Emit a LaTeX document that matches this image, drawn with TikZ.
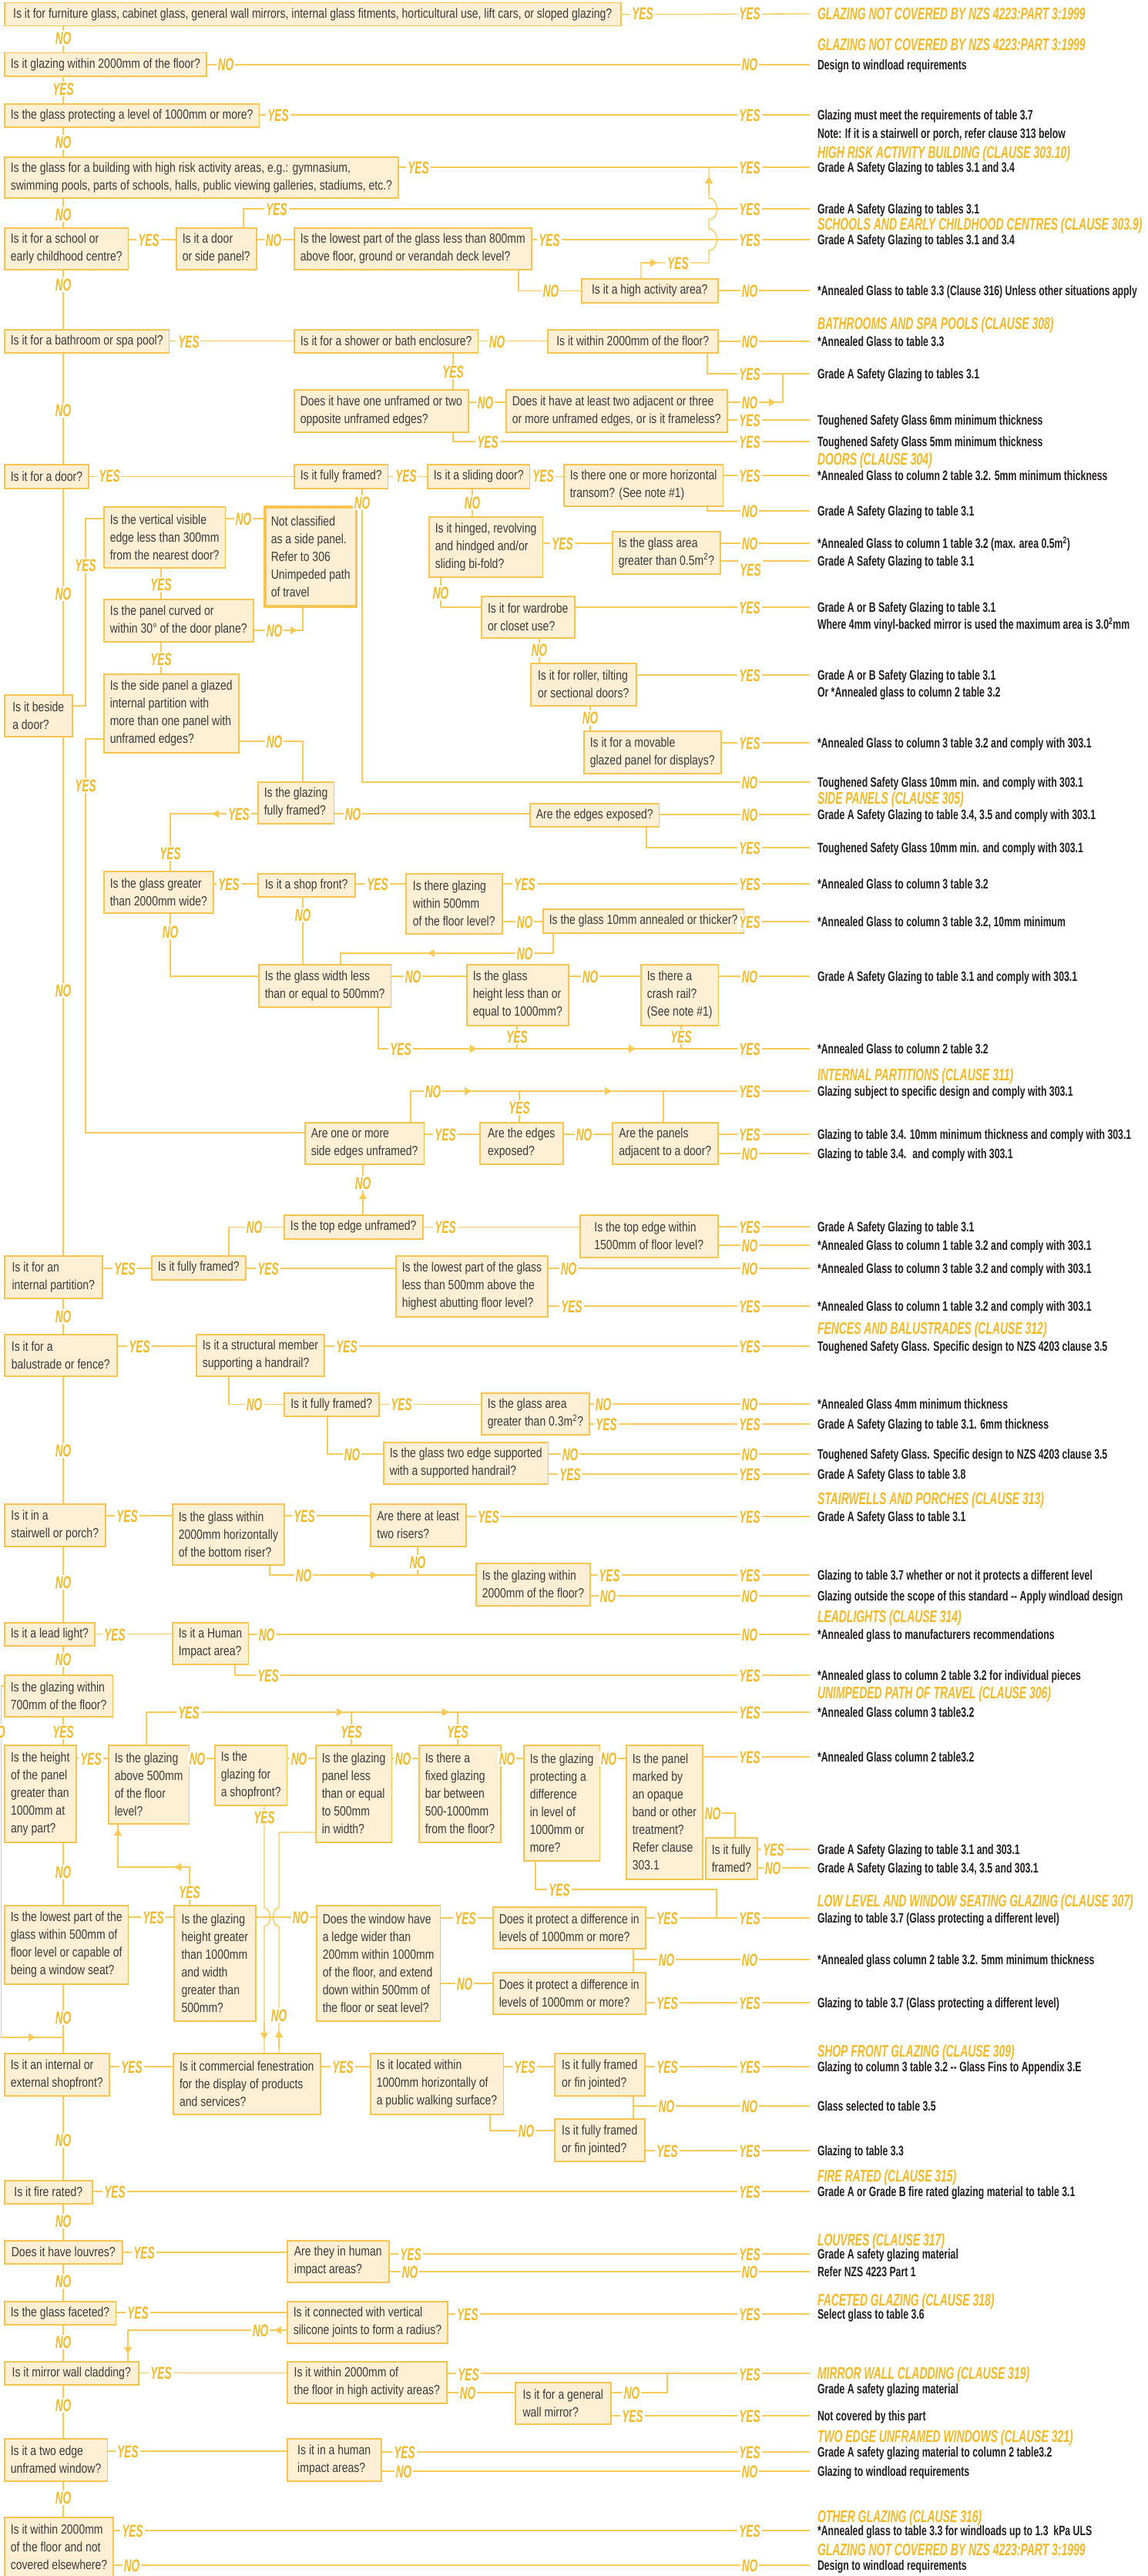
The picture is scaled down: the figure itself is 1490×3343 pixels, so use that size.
\documentclass[tikz,border=0pt]{standalone}
\usepackage{fontspec}
\usetikzlibrary{arrows.meta}
\newfontfamily\boxfont[FakeStretch=0.81]{Liberation Sans}
\newfontfamily\ynfont[FakeStretch=0.61]{Liberation Sans}
\newfontfamily\clfont[FakeStretch=0.64]{Liberation Sans}
\newfontfamily\outfont[FakeStretch=0.69]{Liberation Sans}
\definecolor{boxfill}{HTML}{FCEFD3}
\definecolor{boxline}{HTML}{F6C551}
\definecolor{connline}{HTML}{F8CA57}
\definecolor{ynorange}{HTML}{F5B925}
\definecolor{boxtext}{HTML}{3C3C3C}
\definecolor{outtext}{HTML}{231F20}

\begin{document}
\begin{tikzpicture}[x=1pt,y=-1pt]
\tikzstyle{qbox}=[draw=boxline, fill=boxfill, line width=1.5pt, anchor=north west, align=left, inner xsep=8pt, inner ysep=0pt, text=boxtext, font=\boxfont\fontsize{17.3}{23}\selectfont]
\tikzstyle{conn}=[draw=connline, line width=1.3pt]
\tikzstyle{midtip}=[-{Triangle[length=9pt,width=10pt]}]
\tikzstyle{yesno}=[fill=white, text=ynorange, inner xsep=2pt, inner ysep=1.5pt, text height=16pt, text depth=0pt, font=\ynfont\bfseries\itshape\fontsize{22.3}{24}\selectfont]
\tikzstyle{outcome}=[anchor=west, inner xsep=0pt, outer xsep=10pt, inner ysep=1pt, text height=12.7pt, text depth=0pt, text=outtext, font=\outfont\bfseries\fontsize{17.8}{20}\selectfont]
\tikzstyle{clause}=[outcome, text=ynorange, text height=15.6pt, font=\clfont\bfseries\itshape\fontsize{21.8}{24}\selectfont]
\fill[white] (0,0) rectangle (1490,3343);
\useasboundingbox (0,0) rectangle (1490,3343);
\coordinate (tk) at (82,0);

\node[qbox,minimum width=800pt,minimum height=30pt] (q1) at (5,3) {Is it for furniture glass, cabinet glass, general wall mirrors, internal glass fitments, horticultural use, lift cars, or sloped glazing?};
\node[qbox,minimum width=262pt,minimum height=30pt] (q2) at (5,68) {Is it glazing within 2000mm of the floor?};
\node[qbox,minimum width=328pt,minimum height=30pt] (q3) at (5,134) {Is the glass protecting a level of 1000mm or more?};
\node[qbox,minimum width=509pt,minimum height=53pt] (q4) at (5,203) {Is the glass for a building with high risk activity areas, e.g.: gymnasium,\\swimming pools, parts of schools, halls, public viewing galleries, stadiums, etc.?};
\node[qbox,minimum width=160pt,minimum height=54pt] (q5) at (5,295) {Is it for a school or\\early childhood centre?};
\node[qbox,minimum width=102pt,minimum height=54pt] (q5a) at (228,295) {Is it a door\\or side panel?};
\node[qbox,minimum width=304pt,minimum height=54pt] (q5b) at (381,295) {Is the lowest part of the glass less than 800mm\\above floor, ground or verandah deck level?};
\node[qbox,minimum width=177pt,minimum height=31pt] (q5c) at (754,361) {Is it a high activity area?};
\node[qbox,minimum width=212pt,minimum height=30pt] (q6) at (5,427) {Is it for a bathroom or spa pool?};
\node[qbox,minimum width=237pt,minimum height=30pt] (q6a) at (381,427) {Is it for a shower or bath enclosure?};
\node[qbox,minimum width=221pt,minimum height=30pt] (q6b) at (710,427) {Is it within 2000mm of the floor?};
\node[qbox,minimum width=223pt,minimum height=55pt] (q6c) at (381,505) {Does it have one unframed or two\\opposite unframed edges?};
\node[qbox,minimum width=275pt,minimum height=55pt] (q6d) at (656,505) {Does it have at least two adjacent or three\\or more unframed edges, or is it frameless?};
\node[qbox,minimum width=109pt,minimum height=31pt] (q7) at (5,602) {Is it for a door?};
\node[qbox,minimum width=120pt,minimum height=31pt] (q7a) at (381,602) {Is it fully framed?};
\node[qbox,minimum width=127pt,minimum height=31pt] (q7b) at (554,602) {Is it a sliding door?};
\node[qbox,minimum width=200pt,minimum height=54pt] (q7c) at (731,602) {Is there one or more horizontal\\transom? (See note \#1)};
\node[qbox,minimum width=146pt,minimum height=78pt] (q7d) at (556,670) {Is it hinged, revolving\\and hindged and/or\\sliding bi-fold?};
\node[qbox,minimum width=137pt,minimum height=55pt] (q7e) at (794,689) {Is the glass area\\greater than 0.5m\textsuperscript{2}?};
\node[qbox,minimum width=121pt,minimum height=54pt] (q7f) at (624,773) {Is it for wardrobe\\or closet use?};
\node[qbox,minimum width=137pt,minimum height=55pt] (q7g) at (688,860) {Is it for roller, tilting\\or sectional doors?};
\node[qbox,minimum width=174pt,minimum height=55pt] (q7h) at (757,948) {Is it for a movable\\glazed panel for displays?};
\node[qbox,minimum width=88pt,minimum height=54pt] (q8) at (5,901) {Is it beside\\a door?};
\node[qbox,minimum width=156pt,minimum height=79pt] (q8a) at (134,657) {Is the vertical visible\\edge less than 300mm\\from the nearest door?};
\node[qbox,line width=3.5pt,minimum width=116pt,minimum height=129pt] (q8x) at (342,656) {Not classified\\as a side panel.\\Refer to 306\\Unimpeded path\\of travel};
\node[qbox,minimum width=194pt,minimum height=55pt] (q8b) at (134,777) {Is the panel curved or\\within 30° of the door plane?};
\node[qbox,minimum width=175pt,minimum height=102pt] (q8c) at (134,874) {Is the side panel a glazed\\internal partition with\\more than one panel with\\unframed edges?};
\node[qbox,minimum width=97pt,minimum height=54pt] (q8d) at (334,1014) {Is the glazing\\fully framed?};
\node[qbox,minimum width=162pt,minimum height=30pt] (q8e) at (687,1042) {Are the edges exposed?};
\node[qbox,minimum width=136pt,minimum height=54pt] (q9) at (134,1130) {Is the glass greater\\than 2000mm wide?};
\node[qbox,minimum width=126pt,minimum height=30pt] (q9a) at (334,1133) {Is it a shop front?};
\node[qbox,minimum width=125pt,minimum height=78pt] (q9b) at (526,1133) {Is there glazing\\within 500mm\\of the floor level?};
\node[qbox,minimum width=247pt,minimum height=31pt] (q9c) at (704,1179) {Is the glass 10mm annealed or thicker?};
\node[qbox,minimum width=171pt,minimum height=55pt] (q9d) at (335,1251) {Is the glass width less\\than or equal to 500mm?};
\node[qbox,minimum width=132pt,minimum height=79pt] (q9e) at (605,1251) {Is the glass\\height less than or\\equal to 1000mm?};
\node[qbox,minimum width=100pt,minimum height=79pt] (q9f) at (831,1251) {Is there a\\crash rail?\\(See note \#1)};
\node[qbox,minimum width=153pt,minimum height=54pt] (q10) at (395,1456) {Are one or more\\side edges unframed?};
\node[qbox,minimum width=108pt,minimum height=54pt] (q10a) at (622,1456) {Are the edges\\exposed?};
\node[qbox,minimum width=137pt,minimum height=54pt] (q10b) at (794,1456) {Are the panels\\adjacent to a door?};
\node[qbox,minimum width=180pt,minimum height=31pt] (q11) at (368,1576) {Is the top edge unframed?};
\node[qbox,minimum width=179pt,minimum height=55pt] (q11b) at (752,1576) {Is the top edge within\\1500mm of floor level?};
\node[qbox,minimum width=127pt,minimum height=55pt] (q12) at (5,1629) {Is it for an\\internal partition?};
\node[qbox,minimum width=122pt,minimum height=31pt] (q12a) at (196,1629) {Is it fully framed?};
\node[qbox,minimum width=196pt,minimum height=79pt] (q12b) at (513,1629) {Is the lowest part of the glass\\less than 500mm above the\\highest abutting floor level?};
\node[qbox,minimum width=146pt,minimum height=54pt] (q13) at (5,1731) {Is it for a\\balustrade or fence?};
\node[qbox,minimum width=165pt,minimum height=54pt] (q13a) at (254,1731) {Is it a structural member\\supporting a handrail?};
\node[qbox,minimum width=123pt,minimum height=30pt] (q13b) at (368,1807) {Is it fully framed?};
\node[qbox,minimum width=134pt,minimum height=54pt] (q13c) at (624,1807) {Is the glass area\\greater than 0.3m\textsuperscript{2}?};
\node[qbox,minimum width=211pt,minimum height=54pt] (q13d) at (497,1871) {Is the glass two edge supported\\with a supported handrail?};
\node[qbox,minimum width=131pt,minimum height=55pt] (q14) at (5,1951) {Is it in a\\stairwell or porch?};
\node[qbox,minimum width=143pt,minimum height=79pt] (q14a) at (223,1951) {Is the glass within\\2000mm horizontally\\of the bottom riser?};
\node[qbox,minimum width=124pt,minimum height=55pt] (q14b) at (480,1951) {Are there at least\\two risers?};
\node[qbox,minimum width=144pt,minimum height=55pt] (q14c) at (617,2028) {Is the glazing within\\2000mm of the floor?};
\node[qbox,minimum width=117pt,minimum height=30pt] (q15) at (5,2105) {Is it a lead light?};
\node[qbox,minimum width=95pt,minimum height=54pt] (q15a) at (223,2105) {Is it a Human\\Impact area?};
\node[qbox,minimum width=138pt,minimum height=54pt] (q16) at (5,2173) {Is the glazing within\\700mm of the floor?};
\node[qbox,minimum width=93pt,minimum height=126pt] (q17) at (5,2264) {Is the height\\of the panel\\greater than\\1000mm at\\any part?};
\node[qbox,minimum width=97pt,minimum height=102pt] (q17a) at (140,2264) {Is the glazing\\above 500mm\\of the floor\\level?};
\node[qbox,minimum width=89pt,minimum height=78pt] (q17b) at (278,2264) {Is the\\glazing for\\a shopfront?};
\node[qbox,minimum width=93pt,minimum height=126pt] (q17c) at (409,2264) {Is the glazing\\panel less\\than or equal\\to 500mm\\in width?};
\node[qbox,minimum width=96pt,minimum height=126pt] (q17d) at (543,2264) {Is there a\\fixed glazing\\bar between\\500-1000mm\\from the floor?};
\node[qbox,minimum width=92pt,minimum height=150pt] (q17e) at (679,2264) {Is the glazing\\protecting a\\difference\\in level of\\1000mm or\\more?};
\node[qbox,minimum width=93pt,minimum height=174pt] (q17f) at (812,2264) {Is the panel\\marked by\\an opaque\\band or other\\treatment?\\Refer clause\\303.1};
\node[qbox,minimum width=65pt,minimum height=54pt] (q17g) at (915,2384) {Is it fully\\framed?};
\node[qbox,minimum width=159pt,minimum height=102pt] (q18) at (5,2472) {Is the lowest part of the\\glass within 500mm of\\floor level or capable of\\being a window seat?};
\node[qbox,minimum width=106pt,minimum height=150pt] (q18a) at (225,2472) {Is the glazing\\height greater\\than 1000mm\\and width\\greater than\\500mm?};
\node[qbox,minimum width=159pt,minimum height=150pt] (q18b) at (410,2472) {Does the window have\\a ledge wider than\\200mm within 1000mm\\of the floor, and extend\\down within 500mm of\\the floor or seat level?};
\node[qbox,minimum width=197pt,minimum height=54pt] (q18d) at (639,2474) {Does it protect a difference in\\levels of 1000mm or more?};
\node[qbox,minimum width=197pt,minimum height=54pt] (q18e) at (639,2559) {Does it protect a difference in\\levels of 1000mm or more?};
\node[qbox,minimum width=136pt,minimum height=55pt] (q19) at (5,2664) {Is it an internal or\\external shopfront?};
\node[qbox,minimum width=191pt,minimum height=79pt] (q19a) at (224,2664) {Is it commercial fenestration\\for the display of products\\and services?};
\node[qbox,minimum width=171pt,minimum height=79pt] (q19b) at (480,2664) {Is it located within\\1000mm horizontally of\\a public walking surface?};
\node[qbox,minimum width=117pt,minimum height=55pt] (q19c) at (719,2664) {Is it fully framed\\or fin jointed?};
\node[qbox,minimum width=117pt,minimum height=55pt] (q19d) at (719,2749) {Is it fully framed\\or fin jointed?};
\node[qbox,minimum width=114pt,minimum height=30pt] (q20) at (5,2829) {Is it fire rated?};
\node[qbox,minimum width=153pt,minimum height=30pt] (q21) at (5,2907) {Does it have louvres?};
\node[qbox,minimum width=132pt,minimum height=54pt] (q21a) at (372,2907) {Are they in human\\impact areas?};
\node[qbox,minimum width=144pt,minimum height=30pt] (q22) at (5,2986) {Is the glass faceted?};
\node[qbox,minimum width=206pt,minimum height=54pt] (q22a) at (372,2986) {Is it connected with vertical\\silicone joints to form a radius?};
\node[qbox,minimum width=174pt,minimum height=30pt] (q23) at (5,3064) {Is it mirror wall cladding?};
\node[qbox,minimum width=207pt,minimum height=54pt] (q23a) at (372,3064) {Is it within 2000mm of\\the floor in high activity areas?};
\node[qbox,minimum width=124pt,minimum height=54pt] (q23b) at (668,3091) {Is it for a general\\wall mirror?};
\node[qbox,minimum width=132pt,minimum height=55pt] (q24) at (5,3164) {Is it a two edge\\unframed window?};
\node[qbox,minimum width=122pt,minimum height=55pt] (q24a) at (372,3164) {Is it in a human\\impact areas?};
\node[qbox,minimum width=138pt,minimum height=78pt] (q25) at (5,3266) {Is it within 2000mm\\of the floor and not\\covered elsewhere?};

\foreach \y/\txt in {%
84/{Design to windload requirements},%
149/{Glazing must meet the requirements of table 3.7},%
173/{Note: If it is a stairwell or porch, refer clause 313 below},%
217/{Grade A Safety Glazing to tables 3.1 and 3.4},%
271/{Grade A Safety Glazing to tables 3.1},%
311/{Grade A Safety Glazing to tables 3.1 and 3.4},%
377/{*Annealed Glass to table 3.3 (Clause 316) Unless other situations apply},%
443/{*Annealed Glass to table 3.3},%
485/{Grade A Safety Glazing to tables 3.1},%
545/{Toughened Safety Glass 6mm minimum thickness},%
573/{Toughened Safety Glass 5mm minimum thickness},%
617/{*Annealed Glass to column 2 table 3.2. 5mm minimum thickness},%
663/{Grade A Safety Glazing to table 3.1},%
705/{*Annealed Glass to column 1 table 3.2 (max. area 0.5m\textsuperscript{2})},%
728/{Grade A Safety Glazing to table 3.1},%
788/{Grade A or B Safety Glazing to table 3.1},%
810/{Where 4mm vinyl-backed mirror is used the maximum area is 3.0\textsuperscript{2}mm},%
876/{Grade A or B Safety Glazing to table 3.1},%
898/{Or *Annealed glass to column 2 table 3.2},%
964/{*Annealed Glass to column 3 table 3.2 and comply with 303.1},%
1015/{Toughened Safety Glass 10mm min. and comply with 303.1},%
1057/{Grade A Safety Glazing to table 3.4, 3.5 and comply with 303.1},%
1100/{Toughened Safety Glass 10mm min. and comply with 303.1},%
1147/{*Annealed Glass to column 3 table 3.2},%
1196/{*Annealed Glass to column 3 table 3.2, 10mm minimum},%
1267/{Grade A Safety Glazing to table 3.1 and comply with 303.1},%
1361/{*Annealed Glass to column 2 table 3.2},%
1416/{Glazing subject to specific design and comply with 303.1},%
1472/{Glazing to table 3.4. 10mm minimum thickness and comply with 303.1},%
1497/{Glazing to table 3.4.~ and comply with 303.1},%
1592/{Grade A Safety Glazing to table 3.1},%
1616/{*Annealed Glass to column 1 table 3.2 and comply with 303.1},%
1646/{*Annealed Glass to column 3 table 3.2 and comply with 303.1},%
1695/{*Annealed Glass to column 1 table 3.2 and comply with 303.1},%
1747/{Toughened Safety Glass. Specific design to NZS 4203 clause 3.5},%
1822/{*Annealed Glass 4mm minimum thickness},%
1848/{Grade A Safety Glazing to table 3.1. 6mm thickness},%
1887/{Toughened Safety Glass. Specific design to NZS 4203 clause 3.5},%
1913/{Grade A Safety Glass to table 3.8},%
1968/{Grade A Safety Glass to table 3.1},%
2044/{Glazing to table 3.7 whether or not it protects a different level},%
2071/{Glazing outside the scope of this standard -- Apply windload design},%
2121/{*Annealed glass to manufacturers recommendations},%
2174/{*Annealed glass to column 2 table 3.2 for individual pieces},%
2222/{*Annealed Glass column 3 table3.2},%
2280/{*Annealed Glass column 2 table3.2},%
2400/{Grade A Safety Glazing to table 3.1 and 303.1},%
2424/{Grade A Safety Glazing to table 3.4, 3.5 and 303.1},%
2489/{Glazing to table 3.7 (Glass protecting a different level)},%
2543/{*Annealed glass column 2 table 3.2. 5mm minimum thickness},%
2599/{Glazing to table 3.7 (Glass protecting a different level)},%
2682/{Glazing to column 3 table 3.2 -- Glass Fins to Appendix 3.E},%
2733/{Glass selected to table 3.5},%
2791/{Glazing to table 3.3},%
2844/{Grade A or Grade B fire rated glazing material to table 3.1},%
2925/{Grade A safety glazing material},%
2948/{Refer NZS 4223 Part 1},%
3003/{Select glass to table 3.6},%
3100/{Grade A safety glazing material},%
3135/{Not covered by this part},%
3182/{Grade A safety glazing material to column 2 table3.2},%
3207/{Glazing to windload requirements},%
3284/{*Annealed glass to table 3.3 for windloads up to 1.3~ kPa ULS},%
3329/{Design to windload requirements}%
} \node[outcome] (T\y) at (1051,\y) {\txt};

\foreach \y/\txt in {%
18/{GLAZING NOT COVERED BY NZS 4223:PART 3:1999},%
58/{GLAZING NOT COVERED BY NZS 4223:PART 3:1999},%
198/{HIGH RISK ACTIVITY BUILDING (CLAUSE 303.10)},%
291/{SCHOOLS AND EARLY CHILDHOOD CENTRES (CLAUSE 303.9)},%
420/{BATHROOMS AND SPA POOLS (CLAUSE 308)},%
596/{DOORS (CLAUSE 304)},%
1036/{SIDE PANELS (CLAUSE 305)},%
1395/{INTERNAL PARTITIONS (CLAUSE 311)},%
1724/{FENCES AND BALUSTRADES (CLAUSE 312)},%
1945/{STAIRWELLS AND PORCHES (CLAUSE 313)},%
2098/{LEADLIGHTS (CLAUSE 314)},%
2197/{UNIMPEDED PATH OF TRAVEL (CLAUSE 306)},%
2467/{LOW LEVEL AND WINDOW SEATING GLAZING (CLAUSE 307)},%
2662/{SHOP FRONT GLAZING (CLAUSE 309)},%
2824/{FIRE RATED (CLAUSE 315)},%
2907/{LOUVRES (CLAUSE 317)},%
2985/{FACETED GLAZING (CLAUSE 318)},%
3080/{MIRROR WALL CLADDING (CLAUSE 319)},%
3162/{TWO EDGE UNFRAMED WINDOWS (CLAUSE 321)},%
3266/{OTHER GLAZING (CLAUSE 316)},%
3309/{GLAZING NOT COVERED BY NZS 4223:PART 3:1999}%
} \node[clause] (H\y) at (1051,\y) {\txt};

\foreach \a/\b in {q1/q2,q2/q3,q3/q4,q4/q5,q5/q6,q6/q7,q7/q8,q8/q12,q12/q13,q13/q14,q14/q15,q15/q16,q16/q17,q17/q18,q18/q19,q19/q20,q20/q21,q21/q22,q22/q23,q23/q24,q24/q25}
  \draw[conn] (\a.south -| tk) -- (\b.north -| tk);

\draw[conn] (q1.east) -- (H18.west);
\draw[conn] (q2.east |- T84.west) -- (T84.west);
\draw[conn] (q3.east |- T149.west) -- (T149.west);
\draw[conn] (q4.east |- T217.west) -- (T217.west);
\draw[conn] (q5.east |- 0,311) -- (q5a.west |- 0,311);
\draw[conn] (q5a.east |- 0,311) -- (q5b.west |- 0,311);
\draw[conn] (q5a.north -| 316,0) |- (T271.west);
\draw[conn] (q5b.east |- T311.west) -- (T311.west);
\draw[conn] (q5b.south -| 673,0) |- (q5c.west);
\draw[conn] (q5c.east |- T377.west) -- (T377.west);
\draw[conn] (q5c.north -| 832,0) |- (920,341) -- (920,325) .. controls (934,325) and (934,297) .. (920,297) -- (920,285) .. controls (934,285) and (934,257) .. (920,257) -- (920,217);
\draw[conn] (q6.east) -- (q6a.west);
\draw[conn] (q6a.east) -- (q6b.west);
\draw[conn] (q6b.east |- T443.west) -- (T443.west);
\draw[conn] (q6b.south -| 918,0) |- (T485.west);
\draw[conn] (q6a.south -| 588,0) -- (q6c.north -| 588,0);
\draw[conn] (q6c.east |- 0,522) -- (q6d.west |- 0,522);
\draw[conn] (q6d.east |- 0,522) -- (1016,522) -- (1016,485);
\draw[conn] (q6d.east |- T545.west) -- (T545.west);
\draw[conn] (q6c.south -| 588,0) |- (T573.west);
\draw[conn] (q7.east) -- (q7a.west);
\draw[conn] (q7a.east) -- (q7b.west);
\draw[conn] (q7b.east) -- (q7c.west |- q7b.east);
\draw[conn] (q7c.east |- T617.west) -- (T617.west);
\draw[conn] (q7c.south -| 918,0) |- (T663.west);
\draw[conn] (q7b.south -| 613,0) -- (q7d.north -| 613,0);
\draw[conn] (q7d.east |- 0,705) -- (q7e.west |- 0,705);
\draw[conn] (q7e.east |- T705.west) -- (T705.west);
\draw[conn] (q7e.east |- T728.west) -- (T728.west);
\draw[conn] (q7d.south -| 572,0) |- (q7f.west |- T788.west);
\draw[conn] (q7f.east |- T788.west) -- (T788.west);
\draw[conn] (q7f.south -| 700,0) -- (q7g.north -| 700,0);
\draw[conn] (q7g.east |- T876.west) -- (T876.west);
\draw[conn] (q7g.south -| 766,0) -- (q7h.north -| 766,0);
\draw[conn] (q7h.east |- T964.west) -- (T964.west);
\draw[conn] (q7a.south -| 470,0) |- (T1015.west);
\draw[conn] (q8.east |- 0,916) -| (111,673) -- (q8a.west |- 0,673);
\draw[conn] (q8a.east |- 0,673) -- (q8x.west |- 0,673);
\draw[conn] (q8a.south -| 209,0) -- (q8b.north -| 209,0);
\draw[conn] (q8b.east |- 0,818) -| (q8x.south -| 393,0);
\draw[conn] (q8b.south -| 209,0) -- (q8c.north -| 209,0);
\draw[conn] (q8c.east |- 0,962) -| (q8d.north -| 393,0);
\draw[conn] (q8d.east |- 0,1056) -- (q8e.west |- 0,1056);
\draw[conn] (q8e.east |- T1057.west) -- (T1057.west);
\draw[conn] (q8e.south -| 839,0) |- (T1100.west);
\draw[conn] (q8d.west |- 0,1056) -| (q9.north -| 221,0);
\draw[conn] (q8c.west |- 0,959) -| (111,1470) -- (q10.west |- 0,1470);
\draw[conn] (q9.east |- 0,1147) -- (q9a.west |- 0,1147);
\draw[conn] (q9a.east |- 0,1147) -- (q9b.west |- 0,1147);
\draw[conn] (q9b.east |- T1147.west) -- (T1147.west);
\draw[conn] (q9b.east |- 0,1196) -- (q9c.west |- 0,1196);
\draw[conn] (q9c.east |- T1196.west) -- (T1196.west);
\draw[conn] (q9c.south -| 718,0) -- (718,1237) -| (q9d.north -| 442,0);
\draw[conn] (q9a.south -| 393,0) -- (q9d.north -| 393,0);
\draw[conn] (q9.south -| 221,0) |- (q9d.west |- 0,1267);
\draw[conn] (q9d.east |- 0,1267) -- (q9e.west |- 0,1267);
\draw[conn] (q9e.east |- 0,1267) -- (q9f.west |- 0,1267);
\draw[conn] (q9f.east |- T1267.west) -- (T1267.west);
\draw[conn] (q9d.south -| 491,0) |- (T1361.west);
\draw[conn] (q9e.south -| 671,0) -- (671,1361);
\draw[conn] (q9f.south -| 884,0) -- (884,1361);
\draw[conn] (q10.north -| 533,0) |- (T1416.west);
\draw[conn] (q10a.north -| 674,0) -- (674,1416);
\draw[conn] (q10b.north -| 861,0) -- (861,1416);
\draw[conn] (q10.east |- 0,1472) -- (q10a.west |- 0,1472);
\draw[conn] (q10a.east |- 0,1472) -- (q10b.west |- 0,1472);
\draw[conn] (q10b.east |- T1472.west) -- (T1472.west);
\draw[conn] (q10b.east |- T1497.west) -- (T1497.west);
\draw[conn] (q11.north -| 471,0) -- (q10.south -| 471,0);
\draw[conn] (q11.east) -- (q11b.west |- q11.east);
\draw[conn] (q11b.east |- T1592.west) -- (T1592.west);
\draw[conn] (q11b.east |- T1616.west) -- (T1616.west);
\draw[conn] (q12.east |- 0,1646) -- (q12a.west |- 0,1646);
\draw[conn] (q12a.north -| 297,0) |- (q11.west);
\draw[conn] (q12a.east |- 0,1646) -- (q12b.west |- 0,1646);
\draw[conn] (q12b.east |- T1646.west) -- (T1646.west);
\draw[conn] (q12b.east |- T1695.west) -- (T1695.west);
\draw[conn] (q13.east |- 0,1747) -- (q13a.west |- 0,1747);
\draw[conn] (q13a.east |- T1747.west) -- (T1747.west);
\draw[conn] (q13a.south -| 297,0) |- (q13b.west);
\draw[conn] (q13b.east) -- (q13c.west |- q13b.east);
\draw[conn] (q13c.east |- T1822.west) -- (T1822.west);
\draw[conn] (q13c.east |- T1848.west) -- (T1848.west);
\draw[conn] (q13b.south -| 425,0) |- (q13d.west |- 0,1887);
\draw[conn] (q13d.east |- T1887.west) -- (T1887.west);
\draw[conn] (q13d.east |- T1913.west) -- (T1913.west);
\draw[conn] (q14.east |- 0,1967) -- (q14a.west |- 0,1967);
\draw[conn] (q14a.east |- 0,1967) -- (q14b.west |- 0,1967);
\draw[conn] (q14b.east |- T1968.west) -- (T1968.west);
\draw[conn] (q14b.south -| 542,0) -- (542,2044);
\draw[conn] (q14a.south -| 350,0) |- (q14c.west |- 0,2044);
\draw[conn] (q14c.east |- T2044.west) -- (T2044.west);
\draw[conn] (q14c.east |- T2071.west) -- (T2071.west);
\draw[conn] (q15.east) -- (q15a.west |- q15.east);
\draw[conn] (q15a.east |- T2121.west) -- (T2121.west);
\draw[conn] (q15a.south -| 305,0) |- (T2174.west);
\draw[conn] (q17a.north -| 190,0) |- (T2222.west);
\draw[conn] (q17c.north -| 456,0) -- (456,2222);
\draw[conn] (q17d.north -| 594,0) -- (594,2222);
\draw[conn] (q16.west |- 0,2188) -- (1.5,2188) -- (1.5,2644) -- (tk |- 0,2644);
\draw[conn] (q17.east |- 0,2282) -- (q17a.west |- 0,2282);
\draw[conn] (q17a.east |- 0,2282) -- (q17b.west |- 0,2282);
\draw[conn] (q17b.east |- 0,2282) -- (q17c.west |- 0,2282);
\draw[conn] (q17c.east |- 0,2282) -- (q17d.west |- 0,2282);
\draw[conn] (q17d.east |- 0,2282) -- (q17e.west |- 0,2282);
\draw[conn] (q17e.east |- 0,2282) -- (q17f.west |- 0,2282);
\draw[conn] (q17f.east |- T2280.west) -- (T2280.west);
\draw[conn] (q17f.east |- 0,2353) -| (q17g.north -| 954,0);
\draw[conn] (q17g.east |- T2400.west) -- (T2400.west);
\draw[conn] (q17g.east |- T2424.west) -- (T2424.west);
\draw[conn] (q17e.south -| 695,0) |- (930,2452) -- (930,2489);
\draw[conn] (q18.east |- 0,2488) -- (q18a.west |- 0,2488);
\draw[conn] (q18a.north -| 246,0) -- (246,2423) -| (q17a.south -| 153,0);
\draw[conn] (q18a.east |- 0,2488) -- (q18b.west |- 0,2488);
\draw[conn] (q18b.east |- 0,2489) -- (q18d.west |- 0,2489);
\draw[conn] (q18d.east |- T2489.west) -- (T2489.west);
\draw[conn] (q18d.south -| 822,0) |- (T2543.west);
\draw[conn] (q18e.north -| 822,0) -- (822,2543);
\draw[conn] (q18b.east |- 0,2574) -- (q18e.west |- 0,2574);
\draw[conn] (q18e.east |- T2599.west) -- (T2599.west);
\draw[conn] (q17b.south -| 343,0) -- (343,2476) .. controls (353,2476) and (353,2500) .. (343,2500) -- (q19a.north -| 343,0);
\draw[conn] (q19a.north -| 362,0) -- (362,2500) .. controls (352,2500) and (352,2476) .. (362,2476) |- (q17c.west |- 0,2378);
\draw[conn] (q19.east |- 0,2682) -- (q19a.west |- 0,2682);
\draw[conn] (q19a.east |- 0,2682) -- (q19b.west |- 0,2682);
\draw[conn] (q19b.east |- 0,2682) -- (q19c.west |- 0,2682);
\draw[conn] (q19c.east |- T2682.west) -- (T2682.west);
\draw[conn] (q19c.south -| 822,0) |- (T2733.west);
\draw[conn] (q19d.north -| 822,0) -- (822,2733);
\draw[conn] (q19b.south -| 636,0) |- (q19d.west |- 0,2765);
\draw[conn] (q19d.east |- T2791.west) -- (T2791.west);
\draw[conn] (q20.east |- T2844.west) -- (T2844.west);
\draw[conn] (q21.east |- 0,2923) -- (q21a.west |- 0,2923);
\draw[conn] (q21a.east |- T2925.west) -- (T2925.west);
\draw[conn] (q21a.east |- T2948.west) -- (T2948.west);
\draw[conn] (q22.east |- 0,3001) -- (q22a.west |- 0,3001);
\draw[conn] (q22a.east |- T3003.west) -- (T3003.west);
\draw[conn] (q22a.west |- 0,3024) -| (q23.north -| 166,0);
\draw[conn] (q23.east) -- (q23a.west |- q23.east);
\draw[conn] (q23a.east |- H3080.west) -- (H3080.west);
\draw[conn] (q23a.east |- 0,3105) -- (q23b.west |- 0,3105);
\draw[conn] (q23b.east |- 0,3105) -| (866,3080);
\draw[conn] (q23b.east |- T3135.west) -- (T3135.west);
\draw[conn] (q24.east |- 0,3181) -- (q24a.west |- 0,3181);
\draw[conn] (q24a.east |- T3182.west) -- (T3182.west);
\draw[conn] (q24a.east |- T3207.west) -- (T3207.west);
\draw[conn] (q25.east |- T3284.west) -- (T3284.west);
\draw[conn] (q25.east |- T3329.west) -- (T3329.west);

\draw[conn,midtip] (832,341) -- (853,341);
\draw[conn,midtip] (920,252) -- (920,229);
\draw[conn,midtip] (990,522) -- (1007,522);
\draw[conn,midtip] (368,818) -- (386,818);
\draw[conn,midtip] (296,1056) -- (275,1056);
\draw[conn,midtip] (575,1237) -- (555,1237);
\draw[conn,midtip] (600,1361) -- (619,1361);
\draw[conn,midtip] (805,1361) -- (825,1361);
\draw[conn,midtip] (590,1416) -- (612,1416);
\draw[conn,midtip] (775,1416) -- (794,1416);
\draw[conn,midtip] (471,1574) -- (471,1547);
\draw[conn,midtip] (470,2044) -- (490,2044);
\draw[conn,midtip] (425,2222) -- (446,2222);
\draw[conn,midtip] (560,2222) -- (583,2222);
\draw[conn,midtip] (25,2644) -- (46,2644);
\draw[conn,midtip] (240,2423) -- (226,2423);
\draw[conn,midtip] (153,2395) -- (153,2373);
\draw[conn,midtip] (343,2625) -- (343,2647);
\draw[conn,midtip] (362,2657) -- (362,2635);
\draw[conn,midtip] (372,3024) -- (356,3024);
\draw[conn,midtip] (166,3035) -- (166,3055);

\foreach \y/\txt in {18/YES,84/NO,149/YES,217/YES,271/YES,311/YES,377/NO,443/NO,485/YES,522/NO,545/YES,573/YES,617/YES,663/NO,705/NO,788/YES,876/YES,964/YES,1015/NO,1057/NO,1100/YES,1147/YES,1196/YES,1267/NO,1361/YES,1416/YES,1472/YES,1497/NO,1592/YES,1616/NO,1646/NO,1695/YES,1747/YES,1822/NO,1848/YES,1887/NO,1913/YES,1968/YES,2044/YES,2071/NO,2121/NO,2174/YES,2222/YES,2280/YES,2489/YES,2543/NO,2599/YES,2682/YES,2733/NO,2791/YES,2844/YES,2925/YES,2948/NO,3003/YES,3081/YES,3135/YES,3182/YES,3207/NO,3284/YES,3329/NO}
  \node[yesno] (L\y) at (973,\y) {\txt};
\node[yesno,anchor=north,inner ysep=5pt] (L728) at (974,726) {YES};
\node[yesno,anchor=east] (nq16) at (9,2247) {NO};

\foreach \x/\y/\txt in {82/50/NO,82/115/YES,82/184/NO,82/278/NO,82/369/NO,82/532/NO,82/770/NO,82/1285/NO,82/1708/NO,82/1882/NO,82/2053/NO,82/2153/NO,82/2247/YES,82/2429/NO,82/2618/NO,82/2777/NO,82/2882/NO,82/2960/NO,82/3039/NO,82/3121/NO,82/3241/NO,%
834/18/YES,293/84/NO,361/149/YES,543/217/YES,193/311/YES,355/311/NO,713/311/YES,359/271/YES,715/377/NO,880/341/YES,245/443/YES,645/443/NO,588/482/YES,630/522/NO,633/573/YES,%
142/617/YES,527/617/YES,705/617/YES,613/652/NO,730/705/YES,572/769/NO,700/843/NO,766/931/NO,470/652/NO,111/733/YES,316/673/NO,209/758/YES,356/818/NO,209/855/YES,356/962/NO,%
458/1056/NO,310/1056/YES,221/1107/YES,111/1019/YES,297/1147/YES,490/1147/YES,681/1147/YES,681/1196/NO,681/1237/NO,393/1187/NO,221/1209/NO,536/1267/NO,766/1267/NO,%
520/1361/YES,671/1345/YES,884/1345/YES,562/1416/NO,578/1472/YES,674/1437/YES,758/1472/NO,471/1535/NO,578/1592/YES,162/1646/YES,330/1592/NO,348/1646/YES,738/1646/NO,742/1695/YES,%
181/1747/YES,450/1747/YES,330/1822/NO,521/1822/YES,783/1822/NO,787/1848/YES,457/1887/NO,740/1887/NO,740/1913/YES,165/1967/YES,395/1967/YES,634/1968/YES,542/2027/NO,394/2044/NO,%
791/2044/YES,789/2071/NO,149/2121/YES,346/2121/NO,348/2174/YES,245/2222/YES,456/2247/YES,594/2247/YES,118/2282/YES,256/2282/NO,388/2282/NO,523/2282/NO,658/2282/NO,790/2282/NO,%
925/2353/NO,1004/2400/YES,1003/2424/NO,726/2452/YES,199/2488/YES,246/2455/YES,390/2488/NO,604/2489/YES,866/2489/YES,865/2543/NO,603/2574/NO,866/2599/YES,343/2358/YES,362/2615/NO,%
171/2682/YES,445/2682/YES,681/2682/YES,866/2682/YES,865/2733/NO,683/2765/NO,866/2791/YES,149/2844/YES,187/2923/YES,533/2925/YES,532/2948/NO,179/3001/YES,607/3003/YES,338/3024/NO,%
209/3079/YES,608/3081/YES,607/3105/NO,820/3105/NO,821/3135/YES,166/3181/YES,525/3182/YES,524/3207/NO,172/3284/YES,171/3329/NO}
  \node[yesno] (yn\x x\y) at (\x,\y) {\txt};
\end{tikzpicture}
\end{document}
